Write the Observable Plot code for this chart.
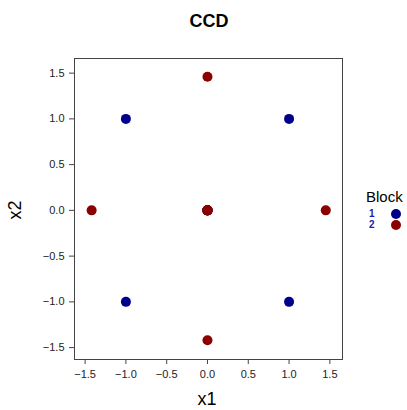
<!DOCTYPE html>
<html>
<head>
<meta charset="utf-8">
<script src="https://cdn.jsdelivr.net/npm/d3@7"></script>
<script src="https://cdn.jsdelivr.net/npm/@observablehq/plot@0.6"></script>
<style>
  html, body { margin: 0; padding: 0; background: #fff; }
  #wrap { position: relative; width: 407px; height: 410px; font-family: "Liberation Sans", Arial, sans-serif; overflow: hidden; }
  #wrap svg { position: absolute; left: 0; top: 0; }
  .ov { position: absolute; white-space: nowrap; line-height: 1; }
</style>
</head>
<body>
<div id="wrap"></div>
<script>
// Data (central composite design, two blocks)
const block1X = [-1, 1, -1, 1, 0, 0, 0, 0];
const block1Y = [-1, -1, 1, 1, 0, 0, 0, 0];
const block2X = [-1.42, 1.45, 0, 0, 0, 0, 0, 0];
const block2Y = [0, 0, -1.42, 1.46, 0, 0, 0, 0];
const blocks = ["1", "2"];
const blockColors = ["#00008B", "#8B0000"];
const tickValues = [-1.5, -1.0, -0.5, 0.0, 0.5, 1.0, 1.5];

const data = [
  ...block1X.map((x, i) => ({x1: x, x2: block1Y[i], Block: blocks[0]})),
  ...block2X.map((x, i) => ({x1: x, x2: block2Y[i], Block: blocks[1]}))
];

const fmt = d3.format(".1f");
const chart = Plot.plot({
  width: 407,
  height: 410,
  marginLeft: 74,
  marginRight: 65,
  marginTop: 58,
  marginBottom: 51,
  style: {fontFamily: "Liberation Sans, Arial, sans-serif", fontSize: "11px", color: "#222", background: "transparent"},
  x: {domain: [-1.63, 1.655], label: null},
  y: {domain: [-1.63, 1.66], label: null},
  color: {domain: blocks, range: blockColors},
  marks: [
    Plot.frame({stroke: "#444", strokeWidth: 1}),
    Plot.axisX({ticks: tickValues, tickFormat: fmt, tickSize: 5, tickPadding: 6, stroke: "#444", fill: "#222", label: null}),
    Plot.axisY({ticks: tickValues, tickFormat: fmt, tickSize: 5, tickPadding: 5, stroke: "#444", fill: "#222", label: null}),
    Plot.dot(data, {x: "x1", y: "x2", fill: "Block", r: 5, stroke: null})
  ]
});
const wrap = document.getElementById("wrap");
wrap.appendChild(chart);

function ov(text, css) {
  const d = document.createElement("div");
  d.className = "ov";
  d.textContent = text;
  Object.assign(d.style, css);
  wrap.appendChild(d);
  return d;
}
ov("CCD", {left: "0px", width: "418px", textAlign: "center", top: "12px", fontSize: "18px", fontWeight: "bold", color: "#000"});
ov("x1", {left: "0px", width: "414px", textAlign: "center", top: "390px", fontSize: "18px", color: "#000"});
ov("x2", {left: "5px", top: "201px", fontSize: "18px", color: "#000", transform: "rotate(-90deg)", transformOrigin: "center"});
ov("Block", {left: "366px", top: "189px", fontSize: "15px", color: "#000"});
blocks.forEach((b, i) => {
  ov(b, {left: "369px", top: (209 + i * 11) + "px", fontSize: "10px", fontWeight: "bold", color: "#1a1aa8"});
  const dot = document.createElement("div");
  Object.assign(dot.style, {position: "absolute", left: (396 - 5) + "px", top: (214 + i * 11 - 5) + "px", width: "10px", height: "10px", borderRadius: "50%", background: blockColors[i]});
  wrap.appendChild(dot);
});
</script>
</body>
</html>
